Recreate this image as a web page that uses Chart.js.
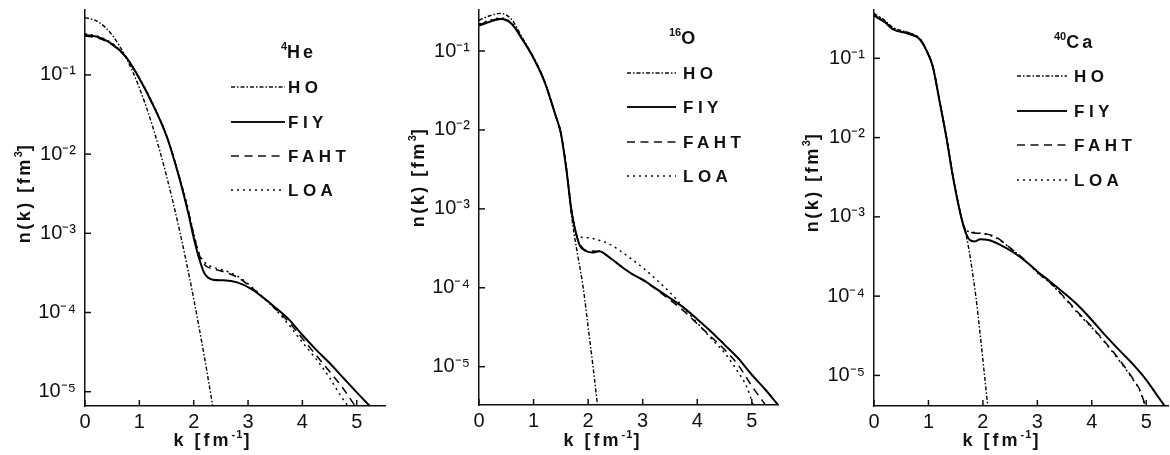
<!DOCTYPE html>
<html>
<head>
<meta charset="utf-8">
<title>Momentum distributions n(k)</title>
<script src="https://cdn.jsdelivr.net/npm/chart.js@4.4.1/dist/chart.umd.min.js"></script>
<style>
  html, body { margin: 0; padding: 0; background: #fff; }
  #wrap { position: relative; width: 1170px; height: 455px; overflow: hidden; background: #fff; }
  .panel { position: absolute; top: 0; width: 390px; height: 455px; }
  .panel canvas { display: block; }
</style>
</head>
<body>
<div id="wrap">
  <div class="panel" style="left:0px"><canvas id="cHe" width="390" height="455"></canvas></div>
  <div class="panel" style="left:390px"><canvas id="cO" width="390" height="455"></canvas></div>
  <div class="panel" style="left:780px"><canvas id="cCa" width="390" height="455"></canvas></div>
</div>
<script>
// ---- axis ticks and series names ----
const xTicks = [0, 1, 2, 3, 4, 5];
const yTicks = [1e-5, 1e-4, 1e-3, 1e-2, 1e-1];
const yTickLabels = ['10⁻⁵', '10⁻⁴', '10⁻³', '10⁻²', '10⁻¹'];
const seriesNames = ['HO', 'FIY', 'FAHT', 'LOA'];

// ---- 4He : k [fm^-1] and n(k) [fm^3] ----
const heK_HO = [0, 0.25, 0.5, 0.75, 1.0, 1.25, 1.5, 1.75, 2.0, 2.2, 2.35];
const heHO   = [0.53, 0.466, 0.318, 0.168, 0.0686, 0.0217, 5.3e-3, 1.01e-3, 1.49e-4, 2.67e-5, 6.6e-6];
const heK_FIY = [0, 0.25, 0.5, 0.75, 1.0, 1.25, 1.5, 1.6, 1.75, 1.9, 2.0, 2.1, 2.2, 2.35, 2.55, 2.8, 3.05, 3.3, 3.5, 3.75, 4.0, 4.25, 4.5, 4.75, 5.0, 5.24];
const heFIY   = [0.32, 0.30, 0.245, 0.17, 0.09, 0.042, 0.017, 0.0105, 4.6e-3, 1.8e-3, 8.8e-4, 4.8e-4, 3.1e-4, 2.6e-4, 2.55e-4, 2.4e-4, 2.0e-4, 1.5e-4, 1.16e-4, 8.2e-5, 5.2e-5, 3.4e-5, 2.3e-5, 1.5e-5, 9.8e-6, 6.6e-6];
const heK_FAHT = [0, 0.25, 0.5, 0.75, 1.0, 1.25, 1.5, 1.75, 1.9, 2.0, 2.1, 2.2, 2.35, 2.5, 2.8, 3.05, 3.3, 3.5, 3.75, 4.0, 4.25, 4.5, 4.75, 4.97];
const heFAHT   = [0.31, 0.29, 0.24, 0.168, 0.09, 0.042, 0.017, 4.7e-3, 1.9e-3, 9.6e-4, 5.4e-4, 4.0e-4, 3.55e-4, 3.35e-4, 2.8e-4, 2.1e-4, 1.5e-4, 1.12e-4, 7.6e-5, 4.7e-5, 2.9e-5, 1.8e-5, 1.1e-5, 6.6e-6];
const heK_LOA = [0, 0.25, 0.5, 0.75, 1.0, 1.25, 1.5, 1.75, 1.9, 2.0, 2.1, 2.2, 2.35, 2.5, 2.8, 3.05, 3.3, 3.5, 3.75, 4.0, 4.25, 4.5, 4.7, 4.84];
const heLOA   = [0.33, 0.305, 0.25, 0.17, 0.092, 0.043, 0.0172, 4.8e-3, 2.0e-3, 1.0e-3, 5.6e-4, 4.3e-4, 3.75e-4, 3.5e-4, 2.9e-4, 2.15e-4, 1.5e-4, 1.1e-4, 7.0e-5, 4.2e-5, 2.6e-5, 1.5e-5, 9e-6, 6.6e-6];

// ---- 16O ----
const oK_HO = [0, 0.2, 0.4, 0.6, 0.8, 1.0, 1.2, 1.4, 1.5, 1.6, 1.68, 1.74, 1.8, 1.91, 2.0, 2.09, 2.17];
const oHO   = [0.245, 0.28, 0.30, 0.25, 0.145, 0.083, 0.042, 0.0155, 9e-3, 3.3e-3, 1.0e-3, 5.0e-4, 2.8e-4, 1.0e-4, 3.2e-5, 1.0e-5, 3.35e-6];
const oK_FIY = [0, 0.2, 0.4, 0.6, 0.8, 1.0, 1.2, 1.4, 1.5, 1.6, 1.7, 1.8, 1.85, 1.9, 2.0, 2.1, 2.2, 2.4, 2.6, 2.8, 3.0, 3.25, 3.5, 3.75, 4.0, 4.25, 4.5, 4.75, 5.0, 5.25, 5.47];
const oFIY   = [0.21, 0.235, 0.254, 0.22, 0.138, 0.081, 0.041, 0.0155, 9.1e-3, 3.2e-3, 8.9e-4, 4.3e-4, 3.4e-4, 3.1e-4, 2.85e-4, 2.8e-4, 2.9e-4, 2.4e-4, 1.87e-4, 1.5e-4, 1.27e-4, 9.7e-5, 7.4e-5, 5.6e-5, 4.0e-5, 2.8e-5, 1.9e-5, 1.28e-5, 7.9e-6, 5.1e-6, 3.35e-6];
const oK_FAHT = [0, 0.2, 0.4, 0.6, 0.8, 1.0, 1.2, 1.4, 1.5, 1.6, 1.7, 1.8, 1.9, 2.0, 2.2, 2.4, 2.6, 2.8, 3.0, 3.25, 3.5, 3.75, 4.0, 4.25, 4.5, 4.75, 5.0, 5.24];
const oFAHT   = [0.215, 0.24, 0.258, 0.222, 0.14, 0.082, 0.041, 0.0156, 9.2e-3, 3.3e-3, 9.2e-4, 4.3e-4, 3.2e-4, 2.95e-4, 2.9e-4, 2.4e-4, 1.9e-4, 1.5e-4, 1.25e-4, 9.5e-5, 7.0e-5, 5.1e-5, 3.5e-5, 2.4e-5, 1.65e-5, 1.05e-5, 5.7e-6, 3.35e-6];
const oK_LOA = [0, 0.2, 0.4, 0.6, 0.8, 1.0, 1.2, 1.4, 1.5, 1.6, 1.7, 1.8, 2.0, 2.2, 2.4, 2.6, 2.8, 3.0, 3.25, 3.5, 3.75, 4.0, 4.25, 4.5, 4.75, 4.9, 5.02];
const oLOA   = [0.22, 0.245, 0.262, 0.225, 0.14, 0.082, 0.041, 0.0156, 9.2e-3, 3.3e-3, 9.3e-4, 4.6e-4, 4.3e-4, 4.0e-4, 3.55e-4, 2.9e-4, 2.3e-4, 1.8e-4, 1.27e-4, 8.7e-5, 5.6e-5, 3.6e-5, 2.3e-5, 1.5e-5, 8.5e-6, 5.7e-6, 3.35e-6];

// ---- 40Ca ----
const caK_HO = [0, 0.2, 0.35, 0.6, 0.75, 0.84, 0.96, 1.08, 1.2, 1.33, 1.45, 1.6, 1.7, 1.78, 1.87, 1.95, 2.03, 2.09];
const caHO   = [0.37, 0.3, 0.245, 0.215, 0.197, 0.177, 0.128, 0.079, 0.03, 0.0101, 3.25e-3, 1.02e-3, 5.6e-4, 2.7e-4, 1.0e-4, 3.3e-5, 1.0e-5, 4.1e-6];
const caK_FIY = [0, 0.2, 0.35, 0.6, 0.75, 0.84, 0.96, 1.08, 1.2, 1.33, 1.45, 1.6, 1.68, 1.76, 1.85, 1.95, 2.1, 2.3, 2.55, 2.8, 3.0, 3.25, 3.5, 3.75, 4.0, 4.25, 4.5, 4.75, 5.0, 5.2, 5.34];
const caFIY   = [0.345, 0.285, 0.232, 0.207, 0.191, 0.174, 0.127, 0.0785, 0.0298, 0.01, 3.2e-3, 1.0e-3, 6.4e-4, 5.1e-4, 4.9e-4, 5.2e-4, 5.1e-4, 4.5e-4, 3.6e-4, 2.7e-4, 2.05e-4, 1.5e-4, 1.08e-4, 7.6e-5, 5.0e-5, 3.2e-5, 2.1e-5, 1.4e-5, 8.8e-6, 5.6e-6, 4.1e-6];
const caK_FAHT = [0, 0.2, 0.35, 0.6, 0.75, 0.84, 0.96, 1.08, 1.2, 1.33, 1.45, 1.6, 1.68, 1.76, 1.9, 2.06, 2.25, 2.55, 2.8, 3.0, 3.25, 3.5, 3.75, 4.0, 4.25, 4.5, 4.75, 4.9, 4.97];
const caFAHT   = [0.35, 0.29, 0.235, 0.21, 0.194, 0.176, 0.128, 0.079, 0.03, 0.0101, 3.25e-3, 1.02e-3, 6.8e-4, 6.4e-4, 6.2e-4, 6.1e-4, 5.5e-4, 3.8e-4, 2.75e-4, 2.0e-4, 1.45e-4, 9.6e-5, 6.2e-5, 4.1e-5, 2.6e-5, 1.6e-5, 9.2e-6, 6.2e-6, 4.4e-6];
const caK_LOA = [0, 0.2, 0.35, 0.6, 0.75, 0.84, 0.96, 1.08, 1.2, 1.33, 1.45, 1.6, 1.68, 1.76, 1.9, 2.06, 2.25, 2.55, 2.8, 3.0, 3.25, 3.5, 3.75, 4.0, 4.25, 4.5, 4.75, 4.9, 4.97];
const caLOA   = [0.36, 0.295, 0.24, 0.213, 0.197, 0.178, 0.129, 0.0795, 0.0302, 0.0102, 3.3e-3, 1.03e-3, 7.0e-4, 6.5e-4, 6.3e-4, 6.0e-4, 5.4e-4, 3.8e-4, 2.72e-4, 1.98e-4, 1.43e-4, 9.4e-5, 6.0e-5, 4.0e-5, 2.55e-5, 1.55e-5, 9.0e-6, 6.0e-6, 4.3e-6];

// ---- drawing ----
const FAMILY = '"Liberation Sans", Arial, Helvetica, sans-serif';
const INK = '#111';

// line style per series, in the order of seriesNames
const lineStyles = [
  { width: 1.4, dash: [4, 2, 1.5, 2] },   // HO   dash-dot
  { width: 2.0, dash: [] },               // FIY  solid
  { width: 1.5, dash: [8, 5.5] },         // FAHT dashed
  { width: 1.5, dash: [2, 4] }            // LOA  dotted
];

function points(ks, ns) {
  return ks.map((k, i) => ({ x: k, y: ns[i] }));
}

function makeSets(groups) {
  return groups.map((g, i) => ({
    label: seriesNames[i],
    data: points(g[0], g[1]),
    borderColor: '#000',
    borderWidth: lineStyles[i].width,
    borderDash: lineStyles[i].dash,
    pointRadius: 0,
    fill: false,
    cubicInterpolationMode: 'monotone'
  }));
}

// text with raised (superscript) pieces
function drawRich(ctx, parts, x, y, o) {
  const base = o.size, sup = o.supSize;
  const fontFor = p => (o.bold ? 'bold ' : '') + (p.sup ? sup : base) + 'px ' + FAMILY;
  let total = 0;
  parts.forEach(p => {
    ctx.font = fontFor(p);
    ctx.letterSpacing = (p.sup ? o.supSpacing : o.spacing) + 'px';
    p.w = ctx.measureText(p.t).width;
    total += p.w;
  });
  let cx = o.align === 'center' ? x - total / 2 : x;
  ctx.textBaseline = 'alphabetic';
  ctx.textAlign = 'left';
  const baseLine = y + base * 0.36;
  parts.forEach(p => {
    ctx.font = fontFor(p);
    ctx.letterSpacing = (p.sup ? o.supSpacing : o.spacing) + 'px';
    ctx.fillText(p.t, cx, p.sup ? baseLine - base * 0.45 : baseLine);
    cx += p.w;
  });
  ctx.letterSpacing = '0px';
}

const decorPlugin = {
  id: 'decor',
  afterDraw(chart, args, opts) {
    const ctx = chart.ctx;
    const area = chart.chartArea;
    const xs = chart.scales.x, ys = chart.scales.y;
    ctx.save();
    ctx.fillStyle = INK;
    ctx.strokeStyle = INK;

    // inward tick marks
    ctx.lineWidth = 1.5;
    ctx.setLineDash([]);
    xs.ticks.forEach(t => {
      const px = xs.getPixelForValue(t.value);
      ctx.beginPath(); ctx.moveTo(px, area.bottom); ctx.lineTo(px, area.bottom - 6); ctx.stroke();
    });
    ys.ticks.forEach(t => {
      const py = ys.getPixelForValue(t.value);
      ctx.beginPath(); ctx.moveTo(area.left, py); ctx.lineTo(area.left + 6, py); ctx.stroke();
    });

    // nucleus label
    drawRich(ctx, [{ t: opts.nucleus.mass, sup: true }, { t: opts.nucleus.name }],
      opts.nucleus.x, opts.nucleus.y, { size: 18, supSize: 11, bold: true, spacing: 3, supSpacing: 0, align: 'left' });

    // legend: line sample + name
    chart.data.datasets.forEach((ds, i) => {
      const ly = opts.legend.ys[i];
      ctx.lineWidth = ds.borderWidth;
      ctx.setLineDash(ds.borderDash || []);
      ctx.beginPath(); ctx.moveTo(opts.legend.x0, ly); ctx.lineTo(opts.legend.x1, ly); ctx.stroke();
      ctx.setLineDash([]);
      drawRich(ctx, [{ t: ds.label }], opts.legend.tx, ly, { size: 17, supSize: 10, bold: true, spacing: 4.5, supSpacing: 0, align: 'left' });
    });

    // axis titles
    drawRich(ctx, [{ t: 'k [fm' }, { t: '-1', sup: true }, { t: ']' }],
      opts.xTitle.x, opts.xTitle.y, { size: 18, supSize: 11, bold: true, spacing: 3, supSpacing: 1, align: 'center' });
    ctx.save();
    ctx.translate(opts.yTitle.x, opts.yTitle.y);
    ctx.rotate(-Math.PI / 2);
    drawRich(ctx, [{ t: 'n(k) [fm' }, { t: '3', sup: true }, { t: ']' }],
      0, 0, { size: 18, supSize: 11, bold: true, spacing: 2.5, supSpacing: 0, align: 'center' });
    ctx.restore();
    ctx.restore();
  }
};

function makeChart(id, sets, cfg) {
  return new Chart(document.getElementById(id), {
    type: 'line',
    data: { datasets: sets },
    plugins: [decorPlugin],
    options: {
      responsive: false,
      animation: false,
      devicePixelRatio: 1,
      events: [],
      layout: { padding: { left: 0, right: cfg.padRight, top: 10, bottom: 0 } },
      scales: {
        x: {
          type: 'linear', min: 0, max: cfg.xMax,
          grid: { display: false, drawTicks: false },
          border: { display: true, color: INK, width: 1.5 },
          ticks: { color: INK, font: { family: FAMILY, size: 20 }, padding: 4, maxRotation: 0, autoSkip: false },
          afterBuildTicks: s => { s.ticks = xTicks.map(v => ({ value: v })); },
          afterFit: s => { s.height = cfg.xHeight; s.paddingLeft = 0; s.paddingRight = 0; }
        },
        y: {
          type: 'logarithmic', min: cfg.yMin, max: cfg.yMax,
          grid: { display: false, drawTicks: false },
          border: { display: true, color: INK, width: 1.5 },
          ticks: {
            color: INK, font: { family: FAMILY, size: 20 }, padding: 9, autoSkip: false,
            callback: (v, i) => yTickLabels[i]
          },
          afterBuildTicks: s => { s.ticks = yTicks.map(v => ({ value: v })); },
          afterFit: s => { s.width = cfg.yWidth; s.paddingTop = 0; s.paddingBottom = 0; }
        }
      },
      plugins: {
        legend: { display: false },
        tooltip: { enabled: false },
        decor: cfg.decor
      }
    }
  });
}

makeChart('cHe', makeSets([[heK_HO, heHO], [heK_FIY, heFIY], [heK_FAHT, heFAHT], [heK_LOA, heLOA]]), {
  xMax: 5.52, yMin: 6.6e-6, yMax: 0.66, yWidth: 85, padRight: 5, xHeight: 49,
  decor: {
    nucleus: { mass: '4', name: 'He', x: 281, y: 52 },
    legend: { x0: 231, x1: 285, tx: 288, ys: [87, 122, 156, 190] },
    xTitle: { x: 213, y: 440 },
    yTitle: { x: 24, y: 193 }
  }
});

makeChart('cO', makeSets([[oK_HO, oHO], [oK_FIY, oFIY], [oK_FAHT, oFAHT], [oK_LOA, oLOA]]), {
  xMax: 5.48, yMin: 3.27e-6, yMax: 0.331, yWidth: 89, padRight: 2, xHeight: 50,
  decor: {
    nucleus: { mass: '16', name: 'O', x: 279, y: 38 },
    legend: { x0: 237, x1: 286, tx: 293, ys: [73, 107, 142, 176] },
    xTitle: { x: 213, y: 440 },
    yTitle: { x: 28, y: 177 }
  }
});

makeChart('cCa', makeSets([[caK_HO, caHO], [caK_FIY, caFIY], [caK_FAHT, caFAHT], [caK_LOA, caLOA]]), {
  xMax: 5.4, yMin: 4.11e-6, yMax: 0.407, yWidth: 94, padRight: 2, xHeight: 49,
  decor: {
    nucleus: { mass: '40', name: 'Ca', x: 274, y: 42 },
    legend: { x0: 237, x1: 287, tx: 294, ys: [76, 111, 145, 180] },
    xTitle: { x: 222, y: 440 },
    yTitle: { x: 32, y: 182 }
  }
});
</script>
</body>
</html>
